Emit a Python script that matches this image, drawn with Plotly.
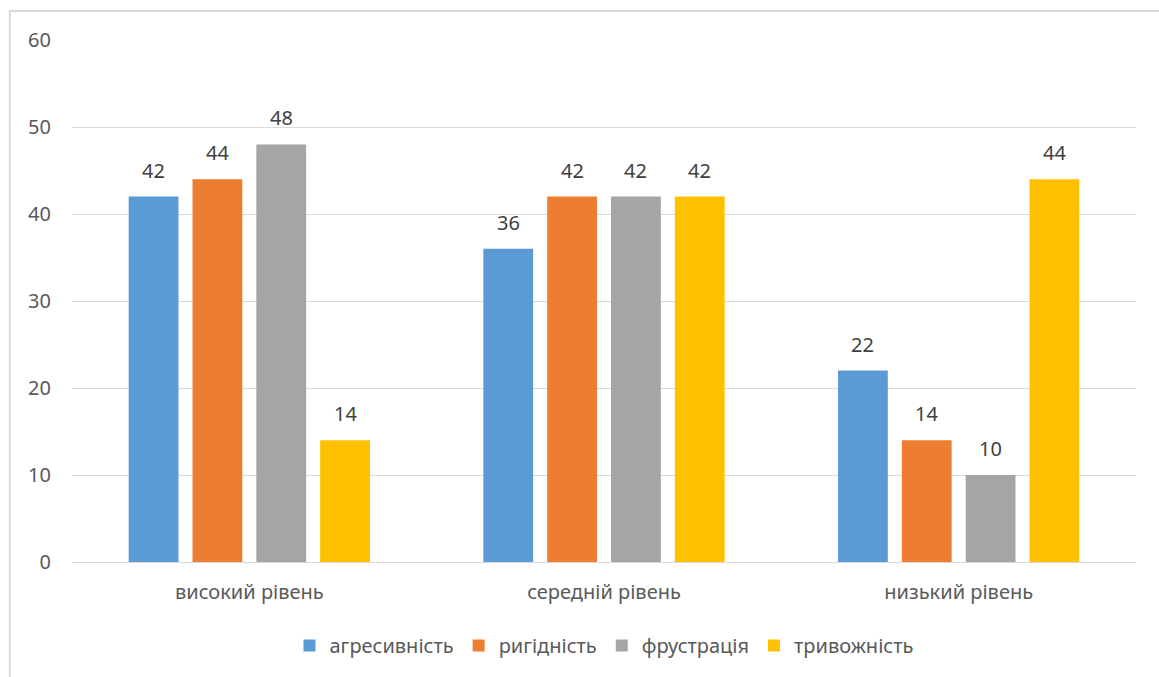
import plotly.graph_objects as go

# Categories and series values
categories = ["високий рівень", "середній рівень", "низький рівень"]
series_names = ["агресивність", "ригідність", "фрустрація", "тривожність"]
aggression = [42, 36, 22]
rigidity = [44, 42, 14]
frustration = [48, 42, 10]
anxiety = [14, 42, 44]
y_ticks = [0, 10, 20, 30, 40, 50, 60]

series_values = [aggression, rigidity, frustration, anxiety]
colors = ["#5B9BD5", "#ED7D31", "#A5A5A5", "#FFC000"]

FONT = "Noto Sans"
BARGAP = 0.28
GROUPGAP = 0.22

fig = go.Figure()
for name, vals, col in zip(series_names, series_values, colors):
    fig.add_trace(go.Bar(
        name=name, x=categories, y=vals,
        marker=dict(color=col, line=dict(width=0)),
    ))

# Value labels above each bar, placed at the bar's slot within its group
n = len(series_names)
slot = (1 - BARGAP) / n
annotations = []
for i, vals in enumerate(series_values):
    for c, v in enumerate(vals):
        annotations.append(dict(
            x=c + (i - (n - 1) / 2) * slot, y=v, xref="x", yref="y",
            text=str(v), showarrow=False, yanchor="bottom", yshift=11,
            font=dict(family=FONT, size=20, color="#404040"),
        ))

fig.update_layout(
    width=1159, height=677,
    paper_bgcolor="white", plot_bgcolor="white",
    margin=dict(l=72, r=23, t=40, b=115),
    barmode="group", bargap=BARGAP, bargroupgap=GROUPGAP,
    font=dict(family=FONT, color="#595959"),
    annotations=annotations,
    legend=dict(
        orientation="h", x=0.5, xanchor="center", y=-0.16, yanchor="middle",
        font=dict(family=FONT, size=20, color="#595959"),
        itemwidth=30, traceorder="normal", tracegroupgap=0,
    ),
    shapes=[dict(
        type="rect", xref="paper", yref="paper",
        x0=-0.0585, x1=1.2, y0=-0.4, y1=1.0555,
        line=dict(color="#D9D9D9", width=2), layer="below",
    )],
)
fig.update_xaxes(
    showgrid=False, showline=False, ticks="", ticklabelstandoff=16,
    tickfont=dict(family=FONT, size=20, color="#595959"),
)
fig.update_yaxes(
    range=[0, 60], tickvals=y_ticks, showgrid=True, gridcolor="#D9D9D9",
    gridwidth=1, zeroline=True, zerolinecolor="#D9D9D9", zerolinewidth=1,
    showline=False, ticks="", ticklabelstandoff=20,
    tickfont=dict(family=FONT, size=20, color="#595959"),
)

fig.write_html("out.html")
